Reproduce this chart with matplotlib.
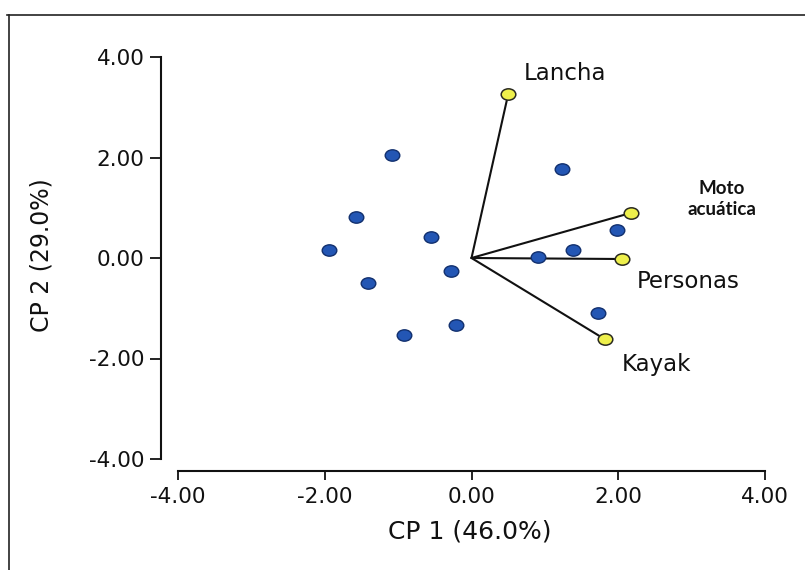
"""PCA biplot: site scores (blue) and activity loadings (yellow) on CP 1 / CP 2."""

import matplotlib
matplotlib.use("Agg")
import matplotlib.pyplot as plt  # noqa: E402
from matplotlib.lines import Line2D  # noqa: E402
from matplotlib.path import Path  # noqa: E402
from matplotlib.transforms import Affine2D  # noqa: E402

plt.rcParams["font.family"] = ["DejaVu Sans"]

# Site scores
obs_cp1 = [-1.08, -1.58, -1.94, -0.55, -0.28, -1.41, -0.21, -0.92,
           1.23, 1.98, 1.38, 0.91, 1.72]
obs_cp2 = [2.04, 0.81, 0.15, 0.41, -0.25, -0.50, -1.33, -1.54,
           1.78, 0.56, 0.15, 0.01, -1.09]

# Variable loadings
var_names = ["Lancha", "Moto\nacuática", "Personas", "Kayak"]
var_cp1 = [0.50, 2.18, 2.05, 1.82]
var_cp2 = [3.26, 0.90, -0.02, -1.62]

ticks = [-4.0, -2.0, 0.0, 2.0, 4.0]

BLUE = "#2356b4"
BLUE_EDGE = "#12306e"
YELLOW = "#eef04c"
YELLOW_EDGE = "#2a2a20"

# slightly flattened dot
_dot = Path.unit_circle().transformed(Affine2D().scale(1.0, 0.78))

fig = plt.figure(figsize=(8.05, 5.70), dpi=100)
ax = fig.add_axes([178 / 805, 1 - 459 / 570, 587 / 805, 402 / 570])
ax.set_xlim(-4, 4)
ax.set_ylim(-4, 4)

# loading vectors from the origin
for x, y in zip(var_cp1, var_cp2):
    ax.plot([0, x], [0, y], color="#111111", lw=1.5, solid_capstyle="round", zorder=2)

ax.plot(obs_cp1, obs_cp2, linestyle="none", marker=_dot, markersize=10.5,
        markerfacecolor=BLUE, markeredgecolor=BLUE_EDGE, markeredgewidth=1.0, zorder=3)
ax.plot(var_cp1, var_cp2, linestyle="none", marker=_dot, markersize=10.5,
        markerfacecolor=YELLOW, markeredgecolor=YELLOW_EDGE, markeredgewidth=1.1, zorder=4)

# labels next to the loading tips (offsets in points)
label_style = {
    "Lancha": dict(xytext=(11, 15), ha="left", va="center", fontsize=16.5),
    "Moto\nacuática": dict(xytext=(65, 10), ha="center", va="center", fontsize=13.5,
                           family="Lato", fontweight="bold", linespacing=1.25),
    "Personas": dict(xytext=(11, -16.5), ha="left", va="center", fontsize=16.5),
    "Kayak": dict(xytext=(12, -18), ha="left", va="center", fontsize=16.5),
}
for name, x, y in zip(var_names, var_cp1, var_cp2):
    ax.annotate(name, (x, y), textcoords="offset points", color="#111111",
                **label_style[name])

# SPSS-style detached axes
for side in ("top", "right"):
    ax.spines[side].set_visible(False)
ax.spines["left"].set_position(("outward", 12))
ax.spines["bottom"].set_position(("outward", 8.5))
for side in ("left", "bottom"):
    ax.spines[side].set_linewidth(1.5)
    ax.spines[side].set_color("#111111")

ax.set_xticks(ticks)
ax.set_yticks(ticks)
ax.set_xticklabels([f"{t:.2f}" for t in ticks])
ax.set_yticklabels([f"{t:.2f}" for t in ticks])
ax.tick_params(axis="y", length=8, width=1.3, pad=4, labelsize=15.5, colors="#111111")
ax.tick_params(axis="x", length=6.5, width=1.3, pad=5, labelsize=15.5, colors="#111111")

fig.text(470 / 805, 1 - 532 / 570, "CP 1 (46.0%)", ha="center", va="center",
         fontsize=18, color="#111111")
fig.text(41 / 805, 1 - 255 / 570, "CP 2 (29.0%)", ha="center", va="center",
         rotation=90, fontsize=17, color="#111111")

# outer frame (left and top edges)
fig.add_artist(Line2D([9 / 805, 9 / 805], [0, 1 - 15 / 570], transform=fig.transFigure,
                      color="#222222", lw=1.2))
fig.add_artist(Line2D([7 / 805, 1.0], [1 - 15 / 570, 1 - 15 / 570], transform=fig.transFigure,
                      color="#222222", lw=1.2))

fig.savefig("out.png", dpi=100, facecolor="white")
